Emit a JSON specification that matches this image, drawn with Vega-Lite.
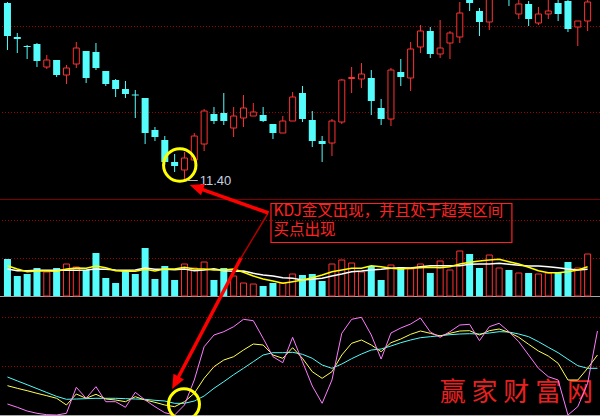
{
  "$schema": "https://vega.github.io/schema/vega-lite/v6.json",
  "width": 600,
  "height": 416,
  "autosize": {"type": "none"},
  "padding": 0,
  "background": "#000000",
  "config": {"view": {"stroke": null}},
  "resolve": {"scale": {"y": "independent"}},
  "datasets": {
    "days": [
      {"i":0,"o":14.94,"h":14.96,"l":14.00,"c":14.28,"v":37,"ma5":30.3,"ma10":27,"k":29.3,"d":38,"j":11},
      {"i":1,"o":14.26,"h":14.34,"l":13.94,"c":14.22,"v":20,"ma5":27,"ma10":25.3,"k":26.7,"d":34.1,"j":7.7},
      {"i":2,"o":14.08,"h":14.10,"l":13.82,"c":14.06,"v":22,"ma5":24.3,"ma10":25.3,"k":24.3,"d":30.3,"j":4},
      {"i":3,"o":14.12,"h":14.14,"l":13.66,"c":13.78,"v":28,"ma5":25,"ma10":25.7,"k":21.7,"d":26.4,"j":1.7},
      {"i":4,"o":13.66,"h":13.90,"l":13.62,"c":13.80,"v":24,"ma5":25,"ma10":25.7,"k":19.3,"d":22.5,"j":0.3},
      {"i":5,"o":13.80,"h":13.80,"l":13.46,"c":13.50,"v":28,"ma5":24.7,"ma10":25.7,"k":16.7,"d":18.6,"j":0},
      {"i":6,"o":13.50,"h":13.70,"l":13.32,"c":13.64,"v":32,"ma5":27,"ma10":26,"k":10,"d":15.7,"j":1.7},
      {"i":7,"o":13.72,"h":14.16,"l":13.64,"c":14.04,"v":29,"ma5":28,"ma10":25.7,"k":21,"d":16,"j":27.7},
      {"i":8,"o":13.98,"h":13.98,"l":13.34,"c":13.44,"v":26,"ma5":27.7,"ma10":26,"k":16.7,"d":16.3,"j":16.7},
      {"i":9,"o":13.96,"h":14.14,"l":13.60,"c":13.64,"v":43,"ma5":30,"ma10":27,"k":20.7,"d":16.7,"j":28.3},
      {"i":10,"o":13.58,"h":13.58,"l":13.28,"c":13.32,"v":18,"ma5":28.3,"ma10":26.7,"k":16,"d":16.7,"j":13.3},
      {"i":11,"o":13.40,"h":13.42,"l":13.06,"c":13.22,"v":13,"ma5":25.3,"ma10":26,"k":15,"d":16.7,"j":13.3},
      {"i":12,"o":13.22,"h":13.38,"l":13.04,"c":13.12,"v":25,"ma5":24.7,"ma10":25.7,"k":13.3,"d":16.3,"j":7.7},
      {"i":13,"o":13.11,"h":13.20,"l":12.64,"c":13.09,"v":22,"ma5":24.7,"ma10":26,"k":18.3,"d":16,"j":22.7},
      {"i":14,"o":13.04,"h":13.04,"l":12.12,"c":12.34,"v":48,"ma5":26.7,"ma10":28,"k":15,"d":15.7,"j":15},
      {"i":15,"o":12.40,"h":12.46,"l":12.18,"c":12.26,"v":17,"ma5":25,"ma10":26.7,"k":12.7,"d":14.7,"j":8.3},
      {"i":16,"o":12.20,"h":12.28,"l":11.70,"c":11.76,"v":30,"ma5":27,"ma10":26.7,"k":10,"d":14,"j":2.3},
      {"i":17,"o":11.76,"h":11.92,"l":11.56,"c":11.68,"v":16,"ma5":27,"ma10":26.3,"k":8.3,"d":11.7,"j":0},
      {"i":18,"o":11.60,"h":11.96,"l":11.40,"c":11.84,"v":32,"ma5":28.7,"ma10":27,"k":13.3,"d":11.7,"j":10},
      {"i":19,"o":11.80,"h":12.34,"l":11.80,"c":12.28,"v":28,"ma5":27,"ma10":25.3,"k":21.7,"d":14,"j":35},
      {"i":20,"o":12.12,"h":12.82,"l":11.98,"c":12.78,"v":34,"ma5":27,"ma10":26,"k":36.7,"d":19,"j":68.3},
      {"i":21,"o":12.72,"h":12.86,"l":12.52,"c":12.58,"v":16,"ma5":26,"ma10":27.3,"k":48.3,"d":26.7,"j":80},
      {"i":22,"o":12.74,"h":13.14,"l":12.50,"c":12.58,"v":28,"ma5":26,"ma10":25.3,"k":55,"d":33.3,"j":83.3},
      {"i":23,"o":12.44,"h":12.86,"l":12.26,"c":12.68,"v":20,"ma5":27,"ma10":24.7,"k":58.3,"d":40.3,"j":88.3},
      {"i":24,"o":12.64,"h":13.10,"l":12.46,"c":12.84,"v":13,"ma5":23.7,"ma10":25,"k":65,"d":46.7,"j":95.7},
      {"i":25,"o":12.68,"h":12.94,"l":12.68,"c":12.76,"v":12,"ma5":20,"ma10":22.7,"k":71,"d":53.3,"j":94.3},
      {"i":26,"o":12.70,"h":12.86,"l":12.56,"c":12.58,"v":10,"ma5":17,"ma10":21,"k":70,"d":60,"j":76.7},
      {"i":27,"o":12.52,"h":12.52,"l":12.22,"c":12.34,"v":13,"ma5":15,"ma10":20,"k":60,"d":62.3,"j":58.3},
      {"i":28,"o":12.34,"h":12.68,"l":12.34,"c":12.58,"v":13,"ma5":12.7,"ma10":18.3,"k":56.7,"d":62.3,"j":52.3},
      {"i":29,"o":12.58,"h":13.16,"l":12.58,"c":13.06,"v":22,"ma5":14.3,"ma10":17.7,"k":67.3,"d":62.7,"j":77.7},
      {"i":30,"o":13.14,"h":13.28,"l":12.56,"c":12.62,"v":21,"ma5":16,"ma10":16,"k":56.7,"d":60.7,"j":53.3},
      {"i":31,"o":12.60,"h":12.78,"l":12.06,"c":12.18,"v":22,"ma5":18.3,"ma10":16.7,"k":43.3,"d":56.7,"j":29},
      {"i":32,"o":12.18,"h":12.28,"l":11.76,"c":12.12,"v":15,"ma5":21,"ma10":17.7,"k":36.7,"d":50,"j":11.7},
      {"i":33,"o":12.14,"h":12.62,"l":11.88,"c":12.58,"v":32,"ma5":24.3,"ma10":20,"k":43.3,"d":46.7,"j":35},
      {"i":34,"o":12.56,"h":13.42,"l":12.52,"c":13.40,"v":36,"ma5":26,"ma10":22,"k":60,"d":51,"j":81.7},
      {"i":35,"o":13.43,"h":13.66,"l":13.14,"c":13.45,"v":33,"ma5":27.7,"ma10":24.3,"k":71.7,"d":56.3,"j":95.7},
      {"i":36,"o":13.42,"h":13.74,"l":13.24,"c":13.52,"v":24,"ma5":27.7,"ma10":25,"k":75,"d":61,"j":97.7},
      {"i":37,"o":13.44,"h":13.60,"l":12.70,"c":12.98,"v":30,"ma5":30.3,"ma10":26,"k":70,"d":65,"j":80},
      {"i":38,"o":12.84,"h":13.02,"l":12.50,"c":12.62,"v":16,"ma5":29.3,"ma10":26.7,"k":63.3,"d":66,"j":56},
      {"i":39,"o":12.62,"h":13.64,"l":12.48,"c":13.60,"v":31,"ma5":27.7,"ma10":27.7,"k":72.3,"d":69,"j":82},
      {"i":40,"o":13.56,"h":13.82,"l":13.28,"c":13.46,"v":29,"ma5":27,"ma10":28.3,"k":76,"d":72.3,"j":87},
      {"i":41,"o":13.44,"h":14.16,"l":13.18,"c":14.02,"v":27,"ma5":27.7,"ma10":28,"k":80.7,"d":75,"j":91},
      {"i":42,"o":14.06,"h":14.50,"l":13.94,"c":14.38,"v":32,"ma5":28.3,"ma10":29.3,"k":84,"d":77.3,"j":97},
      {"i":43,"o":14.38,"h":14.46,"l":13.84,"c":13.92,"v":23,"ma5":28.7,"ma10":30.3,"k":81.7,"d":78.3,"j":83},
      {"i":44,"o":13.92,"h":14.60,"l":13.84,"c":14.04,"v":35,"ma5":28.3,"ma10":30.3,"k":79,"d":79.3,"j":77.7},
      {"i":45,"o":14.14,"h":14.38,"l":13.82,"c":14.34,"v":26,"ma5":29.3,"ma10":30.3,"k":81.7,"d":80.3,"j":83.3},
      {"i":46,"o":14.26,"h":14.96,"l":14.14,"c":14.74,"v":45,"ma5":32,"ma10":30.3,"k":84,"d":81,"j":90},
      {"i":47,"o":15.10,"h":15.16,"l":14.78,"c":14.94,"v":42,"ma5":33.7,"ma10":31.7,"k":84.3,"d":81.3,"j":90.7},
      {"i":48,"o":14.78,"h":14.84,"l":14.28,"c":14.56,"v":28,"ma5":35,"ma10":32,"k":80,"d":81,"j":74.3},
      {"i":49,"o":14.56,"h":15.12,"l":14.40,"c":15.04,"v":41,"ma5":36,"ma10":32,"k":84.3,"d":82,"j":88.3},
      {"i":50,"o":15.20,"h":15.80,"l":15.06,"c":15.60,"v":28,"ma5":36.7,"ma10":32.7,"k":86,"d":83.3,"j":91.7},
      {"i":51,"o":15.60,"h":15.70,"l":14.88,"c":15.10,"v":26,"ma5":34.3,"ma10":31.7,"k":82.7,"d":83,"j":83.3},
      {"i":52,"o":14.72,"h":15.06,"l":14.62,"c":14.92,"v":23,"ma5":32,"ma10":30.7,"k":77.7,"d":81,"j":73.3},
      {"i":53,"o":14.92,"h":14.98,"l":14.48,"c":14.62,"v":23,"ma5":28.7,"ma10":30,"k":70.7,"d":78.3,"j":60},
      {"i":54,"o":14.54,"h":14.86,"l":14.50,"c":14.72,"v":22,"ma5":25.3,"ma10":30,"k":64,"d":73.3,"j":46.7},
      {"i":55,"o":14.72,"h":15.06,"l":14.62,"c":14.78,"v":23,"ma5":23.3,"ma10":29.3,"k":59,"d":67.7,"j":38.3},
      {"i":56,"o":14.94,"h":15.02,"l":14.58,"c":14.72,"v":23,"ma5":23.3,"ma10":28.3,"k":51.7,"d":62.3,"j":35},
      {"i":57,"o":14.98,"h":15.02,"l":14.36,"c":14.42,"v":34,"ma5":24.3,"ma10":27,"k":35,"d":55.7,"j":0},
      {"i":58,"o":14.46,"h":14.58,"l":14.08,"c":14.58,"v":28,"ma5":26,"ma10":26,"k":35,"d":49.3,"j":8.3},
      {"i":59,"o":14.58,"h":15.04,"l":14.38,"c":14.96,"v":42,"ma5":29.3,"ma10":26.7,"k":46.7,"d":46.7,"j":31.7},
      {"i":60,"k":60,"d":46.7,"j":84}
    ]
  },
  "layer": [
    {"data": {"values": [{"p": 14.47}, {"p": 12.75}]},
     "mark": {"type": "rule", "color": "#a00000", "strokeDash": [1, 2], "strokeWidth": 1},
     "encoding": {"y": {"field": "p", "type": "quantitative", "scale": {"domain": [6.68, 15], "nice": false, "zero": false}, "axis": null}}},
    {"data": {"values": [{"p": 11.01}]},
     "mark": {"type": "rule", "color": "#800000", "strokeWidth": 1},
     "encoding": {"y": {"field": "p", "type": "quantitative", "scale": {"domain": [6.68, 15], "nice": false, "zero": false}, "axis": null}}},
    {"data": {"values": [{"v": 75.5}, {"v": 37.5}]},
     "mark": {"type": "rule", "color": "#a00000", "strokeDash": [1, 2], "strokeWidth": 1},
     "encoding": {"y": {"field": "v", "type": "quantitative", "scale": {"domain": [-120, 296], "nice": false, "zero": false}, "axis": null}}},
    {"data": {"values": [{"v": -0.5}]},
     "mark": {"type": "rule", "color": "#a8a8a8", "strokeWidth": 1},
     "encoding": {"y": {"field": "v", "type": "quantitative", "scale": {"domain": [-120, 296], "nice": false, "zero": false}, "axis": null}}},
    {"data": {"values": [{"kv": 97.5}, {"kv": 48.5}]},
     "mark": {"type": "rule", "color": "#a00000", "strokeDash": [1, 2], "strokeWidth": 1},
     "encoding": {"y": {"field": "kv", "type": "quantitative", "scale": {"domain": [-1, 415], "nice": false, "zero": false}, "axis": null}}},
    {"data": {"values": [{"kv": -0.5}]},
     "mark": {"type": "rule", "color": "#a8a8a8", "strokeWidth": 1},
     "encoding": {"y": {"field": "kv", "type": "quantitative", "scale": {"domain": [-1, 415], "nice": false, "zero": false}, "axis": null}}},
    {"data": {"name": "days"},
     "transform": [{"filter": "isValid(datum.o)"}],
     "mark": {"type": "rule", "strokeWidth": 1, "clip": true},
     "encoding": {
       "x": {"field": "i", "type": "quantitative", "scale": {"domain": [-0.25, 59.75], "nice": false, "zero": false}, "axis": null},
       "y": {"field": "l", "type": "quantitative", "scale": {"domain": [6.68, 15], "nice": false, "zero": false}, "axis": null},
       "y2": {"field": "h"},
       "color": {"condition": {"test": "datum.c > datum.o", "value": "#ff3232"}, "value": "#54fcfc"}}},
    {"data": {"name": "days"},
     "transform": [{"filter": "isValid(datum.o) && datum.c <= datum.o"}],
     "mark": {"type": "bar", "size": 7, "color": "#54fcfc", "orient": "vertical", "clip": true},
     "encoding": {
       "x": {"field": "i", "type": "quantitative", "scale": {"domain": [-0.25, 59.75], "nice": false, "zero": false}, "axis": null},
       "y": {"field": "o", "type": "quantitative", "scale": {"domain": [6.68, 15], "nice": false, "zero": false}, "axis": null},
       "y2": {"field": "c"}}},
    {"data": {"name": "days"},
     "transform": [{"filter": "isValid(datum.o) && datum.c > datum.o"}],
     "mark": {"type": "bar", "size": 6, "fill": "#000000", "stroke": "#ff3232", "strokeWidth": 1, "orient": "vertical", "clip": true},
     "encoding": {
       "x": {"field": "i", "type": "quantitative", "scale": {"domain": [-0.25, 59.75], "nice": false, "zero": false}, "axis": null},
       "y": {"field": "o", "type": "quantitative", "scale": {"domain": [6.68, 15], "nice": false, "zero": false}, "axis": null},
       "y2": {"field": "c"}}},
    {"data": {"name": "days"},
     "transform": [{"filter": "isValid(datum.o) && datum.c <= datum.o"}],
     "mark": {"type": "bar", "size": 7, "color": "#54fcfc", "orient": "vertical", "clip": true},
     "encoding": {
       "x": {"field": "i", "type": "quantitative", "scale": {"domain": [-0.25, 59.75], "nice": false, "zero": false}, "axis": null},
       "y": {"field": "v", "type": "quantitative", "scale": {"domain": [-120, 296], "nice": false, "zero": false}, "axis": null},
       "y2": {"datum": 0}}},
    {"data": {"name": "days"},
     "transform": [{"filter": "isValid(datum.o) && datum.c > datum.o"}],
     "mark": {"type": "bar", "size": 6, "fill": "#000000", "stroke": "#ff3232", "strokeWidth": 1, "orient": "vertical", "clip": true},
     "encoding": {
       "x": {"field": "i", "type": "quantitative", "scale": {"domain": [-0.25, 59.75], "nice": false, "zero": false}, "axis": null},
       "y": {"field": "v", "type": "quantitative", "scale": {"domain": [-120, 296], "nice": false, "zero": false}, "axis": null},
       "y2": {"datum": 0}}},
    {"data": {"name": "days"},
     "transform": [{"filter": "isValid(datum.ma10)"}],
     "mark": {"type": "line", "color": "#ffffff", "strokeWidth": 1.5, "clip": true},
     "encoding": {
       "x": {"field": "i", "type": "quantitative", "scale": {"domain": [-0.25, 59.75], "nice": false, "zero": false}, "axis": null},
       "y": {"field": "ma10", "type": "quantitative", "scale": {"domain": [-120, 296], "nice": false, "zero": false}, "axis": null}}},
    {"data": {"name": "days"},
     "transform": [{"filter": "isValid(datum.ma5)"}],
     "mark": {"type": "line", "color": "#ffff00", "strokeWidth": 1.5, "clip": true},
     "encoding": {
       "x": {"field": "i", "type": "quantitative", "scale": {"domain": [-0.25, 59.75], "nice": false, "zero": false}, "axis": null},
       "y": {"field": "ma5", "type": "quantitative", "scale": {"domain": [-120, 296], "nice": false, "zero": false}, "axis": null}}},
    {"data": {"values": [{"i": 51.75, "p": 7.15, "t": "赢 家 财 富 网"}]},
     "mark": {"type": "text", "font": "Noto Sans CJK SC", "fontSize": 26, "color": "#e82020", "align": "center", "baseline": "middle"},
     "encoding": {
       "x": {"field": "i", "type": "quantitative", "scale": {"domain": [-0.25, 59.75], "nice": false, "zero": false}, "axis": null},
       "y": {"field": "p", "type": "quantitative", "scale": {"domain": [6.68, 15], "nice": false, "zero": false}, "axis": null},
       "text": {"field": "t"}}},
    {"data": {"name": "days"},
     "mark": {"type": "line", "color": "#54fcfc", "strokeWidth": 1, "clip": true},
     "encoding": {
       "x": {"field": "i", "type": "quantitative", "scale": {"domain": [-0.25, 59.75], "nice": false, "zero": false}, "axis": null},
       "y": {"field": "d", "type": "quantitative", "scale": {"domain": [-1, 415], "nice": false, "zero": false}, "axis": null}}},
    {"data": {"name": "days"},
     "mark": {"type": "line", "color": "#ffff54", "strokeWidth": 1, "clip": true},
     "encoding": {
       "x": {"field": "i", "type": "quantitative", "scale": {"domain": [-0.25, 59.75], "nice": false, "zero": false}, "axis": null},
       "y": {"field": "k", "type": "quantitative", "scale": {"domain": [-1, 415], "nice": false, "zero": false}, "axis": null}}},
    {"data": {"name": "days"},
     "mark": {"type": "line", "color": "#ff7cff", "strokeWidth": 1, "clip": true},
     "encoding": {
       "x": {"field": "i", "type": "quantitative", "scale": {"domain": [-0.25, 59.75], "nice": false, "zero": false}, "axis": null},
       "y": {"field": "j", "type": "quantitative", "scale": {"domain": [-1, 415], "nice": false, "zero": false}, "axis": null}}},
    {"data": {"values": [{"i": 17.52, "p": 11.70}]},
     "mark": {"type": "point", "shape": "circle", "size": 1050, "filled": false, "stroke": "#ffff00", "strokeWidth": 3, "opacity": 1},
     "encoding": {
       "x": {"field": "i", "type": "quantitative", "scale": {"domain": [-0.25, 59.75], "nice": false, "zero": false}, "axis": null},
       "y": {"field": "p", "type": "quantitative", "scale": {"domain": [6.68, 15], "nice": false, "zero": false}, "axis": null}}},
    {"data": {"values": [{"i": 17.95, "p": 6.914}]},
     "mark": {"type": "point", "shape": "circle", "size": 961, "filled": false, "stroke": "#ffff00", "strokeWidth": 3, "opacity": 1},
     "encoding": {
       "x": {"field": "i", "type": "quantitative", "scale": {"domain": [-0.25, 59.75], "nice": false, "zero": false}, "axis": null},
       "y": {"field": "p", "type": "quantitative", "scale": {"domain": [6.68, 15], "nice": false, "zero": false}, "axis": null}}},
    {"data": {"values": [{"x1": 18.25, "x2": 19.35, "p": 11.39}]},
     "mark": {"type": "rule", "color": "#b8b8b8", "strokeWidth": 1},
     "encoding": {
       "x": {"field": "x1", "type": "quantitative", "scale": {"domain": [-0.25, 59.75], "nice": false, "zero": false}, "axis": null},
       "x2": {"field": "x2"},
       "y": {"field": "p", "type": "quantitative", "scale": {"domain": [6.68, 15], "nice": false, "zero": false}, "axis": null}}},
    {"data": {"values": [{"i": 19.55, "p": 11.38, "t": "11.40"}]},
     "mark": {"type": "text", "font": "Liberation Sans", "fontSize": 13, "color": "#c8d0e0", "align": "left", "baseline": "middle"},
     "encoding": {
       "x": {"field": "i", "type": "quantitative", "scale": {"domain": [-0.25, 59.75], "nice": false, "zero": false}, "axis": null},
       "y": {"field": "p", "type": "quantitative", "scale": {"domain": [6.68, 15], "nice": false, "zero": false}, "axis": null},
       "text": {"field": "t"}}},
    {"data": {"values": [{"x1": 26.45, "p1": 10.72, "x2": 23.75, "p2": 9.84}]},
     "mark": {"type": "rule", "color": "#b00000", "strokeWidth": 1.5},
     "encoding": {
       "x": {"field": "x1", "type": "quantitative", "scale": {"domain": [-0.25, 59.75], "nice": false, "zero": false}, "axis": null},
       "x2": {"field": "x2"},
       "y": {"field": "p1", "type": "quantitative", "scale": {"domain": [6.68, 15], "nice": false, "zero": false}, "axis": null},
       "y2": {"field": "p2"}}},
    {"data": {"values": [{"x1": 26.55, "p1": 10.74, "x2": 19.21, "p2": 11.254}, {"x1": 23.75, "p1": 9.84, "x2": 17.08, "p2": 7.344}]},
     "mark": {"type": "rule", "color": "#ff0000", "strokeWidth": 3.5},
     "encoding": {
       "x": {"field": "x1", "type": "quantitative", "scale": {"domain": [-0.25, 59.75], "nice": false, "zero": false}, "axis": null},
       "x2": {"field": "x2"},
       "y": {"field": "p1", "type": "quantitative", "scale": {"domain": [6.68, 15], "nice": false, "zero": false}, "axis": null},
       "y2": {"field": "p2"}}},
    {"data": {"values": [{"i": 19.21, "p": 11.254}]},
     "mark": {"type": "point", "shape": "M0,-1L0.85,1L-0.85,1Z", "size": 196, "filled": true, "color": "#ff0000", "opacity": 1, "angle": 289},
     "encoding": {
       "x": {"field": "i", "type": "quantitative", "scale": {"domain": [-0.25, 59.75], "nice": false, "zero": false}, "axis": null},
       "y": {"field": "p", "type": "quantitative", "scale": {"domain": [6.68, 15], "nice": false, "zero": false}, "axis": null}}},
    {"data": {"values": [{"i": 17.08, "p": 7.344}]},
     "mark": {"type": "point", "shape": "M0,-1L0.85,1L-0.85,1Z", "size": 196, "filled": true, "color": "#ff0000", "opacity": 1, "angle": 208},
     "encoding": {
       "x": {"field": "i", "type": "quantitative", "scale": {"domain": [-0.25, 59.75], "nice": false, "zero": false}, "axis": null},
       "y": {"field": "p", "type": "quantitative", "scale": {"domain": [6.68, 15], "nice": false, "zero": false}, "axis": null}}},
    {"data": {"values": [{"x1": 26.8, "x2": 51.3, "p1": 10.93, "p2": 10.15}]},
     "mark": {"type": "rect", "fill": "transparent", "stroke": "#ff2020", "strokeWidth": 1.2},
     "encoding": {
       "x": {"field": "x1", "type": "quantitative", "scale": {"domain": [-0.25, 59.75], "nice": false, "zero": false}, "axis": null},
       "x2": {"field": "x2"},
       "y": {"field": "p1", "type": "quantitative", "scale": {"domain": [6.68, 15], "nice": false, "zero": false}, "axis": null},
       "y2": {"field": "p2"}}},
    {"data": {"values": [{"i": 27.05, "p": 10.78, "t": "KDJ金叉出现，并且处于超卖区间"}, {"i": 27.05, "p": 10.40, "t": "买点出现"}]},
     "mark": {"type": "text", "font": "Noto Sans CJK SC", "fontSize": 15.5, "color": "#ff2020", "align": "left", "baseline": "middle"},
     "encoding": {
       "x": {"field": "i", "type": "quantitative", "scale": {"domain": [-0.25, 59.75], "nice": false, "zero": false}, "axis": null},
       "y": {"field": "p", "type": "quantitative", "scale": {"domain": [6.68, 15], "nice": false, "zero": false}, "axis": null},
       "text": {"field": "t"}}}
  ]
}
